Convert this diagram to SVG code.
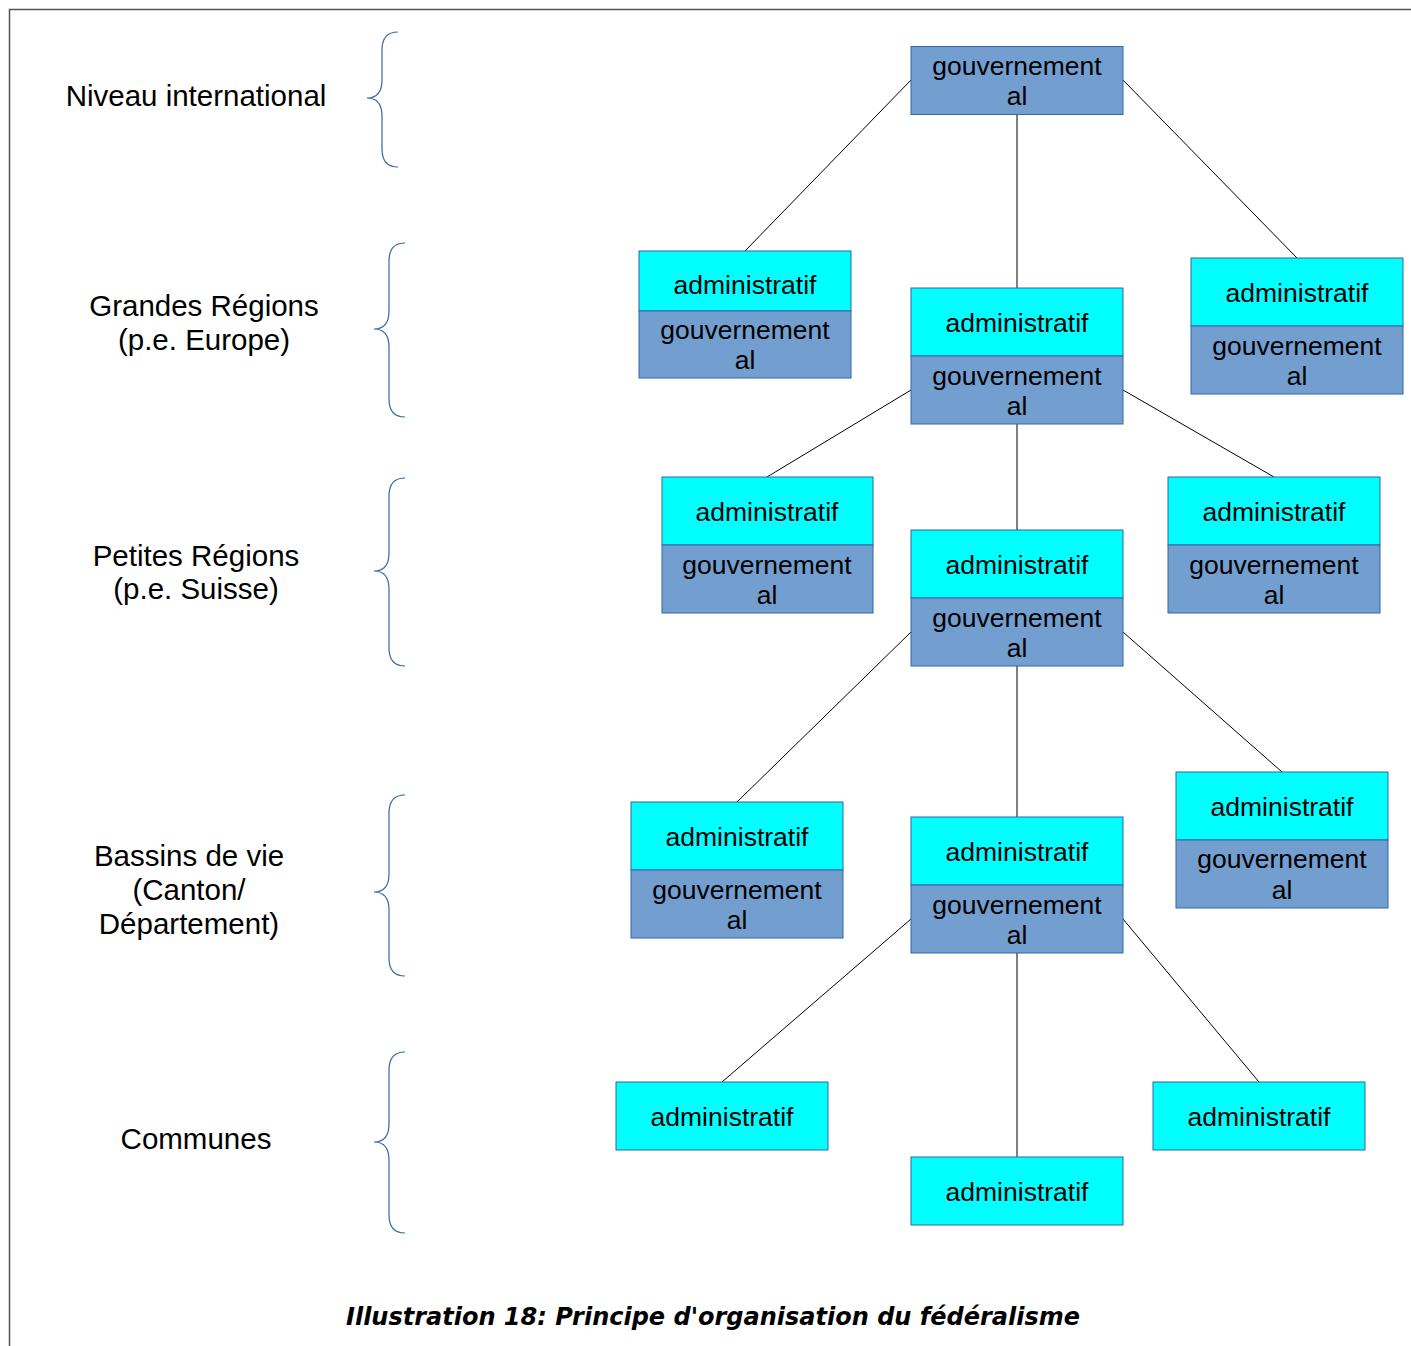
<svg xmlns="http://www.w3.org/2000/svg" width="1411" height="1346" viewBox="0 0 1411 1346">
<style>
.adm{fill:#00ffff;stroke:#3465a4;stroke-width:1}
.gov{fill:#729fcf;stroke:#3465a4;stroke-width:1}
.t{font-family:"Liberation Sans",Arial,sans-serif;font-size:26.5px;fill:#000;text-anchor:middle}
.lbl{font-family:"Liberation Sans",Arial,sans-serif;font-size:29.5px;fill:#000;text-anchor:middle}
.br{fill:none;stroke:#3465a4;stroke-width:1.2}
.cn line{stroke:#000;stroke-width:1}
.cap{font-family:"DejaVu Sans",sans-serif;font-weight:bold;font-style:italic;font-size:24px;fill:#000;text-anchor:middle}
</style>
<rect width="1411" height="1346" fill="#fff"/>
<path d="M9.5 1346 V9.5 H1411" fill="none" stroke="#555" stroke-width="1.5"/>

<g id="labels">
<text class="lbl" x="196" y="106">Niveau international</text>
<text class="lbl" x="204" y="316">Grandes Régions</text>
<text class="lbl" x="204" y="350">(p.e. Europe)</text>
<text class="lbl" x="196" y="566">Petites Régions</text>
<text class="lbl" x="196" y="599">(p.e. Suisse)</text>
<text class="lbl" x="189" y="866">Bassins de vie</text>
<text class="lbl" x="189" y="900">(Canton/</text>
<text class="lbl" x="189" y="934">Département)</text>
<text class="lbl" x="196" y="1149">Communes</text>
</g>

<g id="braces">
<path class="br" d="M398 32 Q382 32 382 50 V80 Q382 98 367 98 Q382 98 382 116 V149 Q382 167 398 167"/>
<path class="br" d="M405 243 Q389 243 389 261 V311 Q389 329 374 329 Q389 329 389 347 V399 Q389 417 405 417"/>
<path class="br" d="M405 478 Q389 478 389 496 V553 Q389 571 374 571 Q389 571 389 589 V648 Q389 666 405 666"/>
<path class="br" d="M405 795 Q389 795 389 813 V874 Q389 892 374 892 Q389 892 389 910 V958 Q389 976 405 976"/>
<path class="br" d="M405 1052 Q389 1052 389 1070 V1124 Q389 1142 374 1142 Q389 1142 389 1160 V1215 Q389 1233 405 1233"/>
</g>

<g id="connectors" class="cn">
<line x1="911" y1="80" x2="745" y2="251"/>
<line x1="1017" y1="114" x2="1017" y2="288"/>
<line x1="1123" y1="80" x2="1297" y2="258"/>
<line x1="911" y1="390" x2="767" y2="477"/>
<line x1="1017" y1="424" x2="1017" y2="530"/>
<line x1="1123" y1="390" x2="1274" y2="477"/>
<line x1="911" y1="632" x2="737" y2="802"/>
<line x1="1017" y1="666" x2="1017" y2="817"/>
<line x1="1123" y1="632" x2="1282" y2="772"/>
<line x1="911" y1="919" x2="722" y2="1082"/>
<line x1="1017" y1="953" x2="1017" y2="1157"/>
<line x1="1123" y1="919" x2="1259" y2="1082"/>
</g>

<g id="n-top">
<rect class="gov" x="911" y="46.5" width="212" height="68"/>
<text class="t" x="1017" y="75">gouvernement</text>
<text class="t" x="1017" y="105">al</text>
</g>

<g id="n-l2-left">
<rect class="adm" x="639" y="251" width="212" height="60"/>
<text class="t" x="745" y="294">administratif</text>
<rect class="gov" x="639" y="311" width="212" height="67"/>
<text class="t" x="745" y="339">gouvernement</text>
<text class="t" x="745" y="369">al</text>
</g>

<g id="n-l2-center">
<rect class="adm" x="911" y="288" width="212" height="68"/>
<text class="t" x="1017" y="332">administratif</text>
<rect class="gov" x="911" y="356" width="212" height="68"/>
<text class="t" x="1017" y="385">gouvernement</text>
<text class="t" x="1017" y="415">al</text>
</g>

<g id="n-l2-right">
<rect class="adm" x="1191" y="258" width="212" height="68"/>
<text class="t" x="1297" y="302">administratif</text>
<rect class="gov" x="1191" y="326" width="212" height="68"/>
<text class="t" x="1297" y="355">gouvernement</text>
<text class="t" x="1297" y="385">al</text>
</g>

<g id="n-l3-left">
<rect class="adm" x="662" y="477" width="211" height="68"/>
<text class="t" x="767" y="521">administratif</text>
<rect class="gov" x="662" y="545" width="211" height="68"/>
<text class="t" x="767" y="574">gouvernement</text>
<text class="t" x="767" y="604">al</text>
</g>

<g id="n-l3-center">
<rect class="adm" x="911" y="530" width="212" height="68"/>
<text class="t" x="1017" y="574">administratif</text>
<rect class="gov" x="911" y="598" width="212" height="68"/>
<text class="t" x="1017" y="627">gouvernement</text>
<text class="t" x="1017" y="657">al</text>
</g>

<g id="n-l3-right">
<rect class="adm" x="1168" y="477" width="212" height="68"/>
<text class="t" x="1274" y="521">administratif</text>
<rect class="gov" x="1168" y="545" width="212" height="68"/>
<text class="t" x="1274" y="574">gouvernement</text>
<text class="t" x="1274" y="604">al</text>
</g>

<g id="n-l4-left">
<rect class="adm" x="631" y="802" width="212" height="68"/>
<text class="t" x="737" y="846">administratif</text>
<rect class="gov" x="631" y="870" width="212" height="68"/>
<text class="t" x="737" y="899">gouvernement</text>
<text class="t" x="737" y="929">al</text>
</g>

<g id="n-l4-center">
<rect class="adm" x="911" y="817" width="212" height="68"/>
<text class="t" x="1017" y="861">administratif</text>
<rect class="gov" x="911" y="885" width="212" height="68"/>
<text class="t" x="1017" y="914">gouvernement</text>
<text class="t" x="1017" y="944">al</text>
</g>

<g id="n-l4-right">
<rect class="adm" x="1176" y="772" width="212" height="68"/>
<text class="t" x="1282" y="816">administratif</text>
<rect class="gov" x="1176" y="840" width="212" height="68"/>
<text class="t" x="1282" y="868">gouvernement</text>
<text class="t" x="1282" y="899">al</text>
</g>

<g id="n-l5-left">
<rect class="adm" x="616" y="1082" width="212" height="68"/>
<text class="t" x="722" y="1126">administratif</text>
</g>

<g id="n-l5-center">
<rect class="adm" x="911" y="1157" width="212" height="68"/>
<text class="t" x="1017" y="1201">administratif</text>
</g>

<g id="n-l5-right">
<rect class="adm" x="1153" y="1082" width="212" height="68"/>
<text class="t" x="1259" y="1126">administratif</text>
</g>

<text class="cap" x="713" y="1325">Illustration 18: Principe d'organisation du fédéralisme</text>
</svg>
